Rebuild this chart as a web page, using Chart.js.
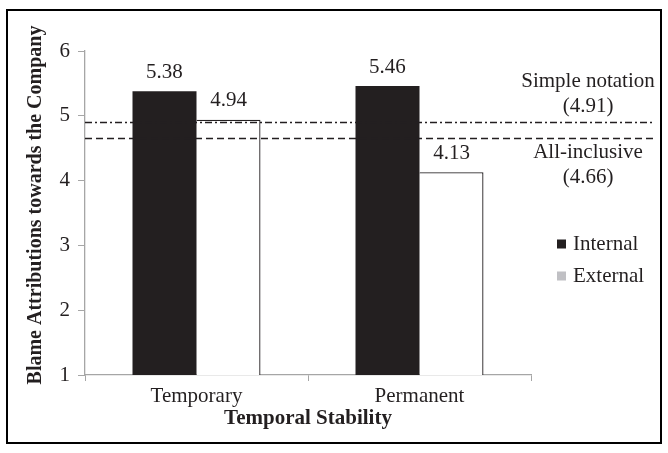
<!DOCTYPE html>
<html>
<head>
<meta charset="utf-8">
<script src="https://cdn.jsdelivr.net/npm/chart.js@4/dist/chart.umd.min.js"></script>
<style>
  html, body { margin: 0; padding: 0; background: #fff; }
  #wrap { width: 668px; height: 453px; }
</style>
</head>
<body>
<div id="wrap"><canvas id="c" width="668" height="453"></canvas></div>
<script>
// Blame attributions by temporal stability and locus
const categories = ['Temporary', 'Permanent'];
const seriesNames = ['Internal', 'External'];
const internalValues = [5.38, 5.46];
const externalValues = [4.94, 4.13];
const yTicks = [1, 2, 3, 4, 5, 6];
const refLabels = [['Simple notation', '(4.91)'], ['All-inclusive', '(4.66)']];
const refValues = [4.91, 4.66];
const yTitle = 'Blame Attributions towards the Company';
const xTitle = 'Temporal Stability';

const FONT = '"Liberation Serif", "Times New Roman", serif';
const INK = '#231f20';
const AXIS = '#a6a6a6';

const overlay = {
  id: 'overlay',
  afterDatasetsDraw(chart) {
    const ctx = chart.ctx;
    const y = chart.scales.y;
    const area = chart.chartArea;
    ctx.save();

    // value labels above each bar
    ctx.font = '21px ' + FONT;
    ctx.fillStyle = INK;
    ctx.textAlign = 'center';
    ctx.textBaseline = 'middle';
    chart.data.datasets.forEach((ds, di) => {
      chart.getDatasetMeta(di).data.forEach((bar, i) => {
        ctx.fillText(ds.data[i].toFixed(2), bar.x, bar.y - 19);
      });
    });

    // reference lines: dash-dot and dashed
    const lineRight = 653;
    const dashes = [[7, 3, 2, 3], [7, 4]];
    refValues.forEach((v, k) => {
      const py = Math.round(y.getPixelForValue(v)) + 0.5;
      ctx.beginPath();
      ctx.setLineDash(dashes[k]);
      ctx.lineWidth = 1.3;
      ctx.strokeStyle = INK;
      ctx.moveTo(area.left, py);
      ctx.lineTo(lineRight, py);
      ctx.stroke();
    });
    ctx.setLineDash([]);

    // reference line captions
    ctx.font = '21px ' + FONT;
    ctx.fillStyle = INK;
    const capX = 588;
    const ySimple = y.getPixelForValue(refValues[0]);
    const yAll = y.getPixelForValue(refValues[1]);
    ctx.fillText(refLabels[0][0], capX, ySimple - 40);
    ctx.fillText(refLabels[0][1], capX, ySimple - 15);
    ctx.fillText(refLabels[1][0], capX, yAll + 15);
    ctx.fillText(refLabels[1][1], capX, yAll + 40);

    // legend
    const legendY = [244, 276];
    chart.data.datasets.forEach((ds, di) => {
      ctx.fillStyle = ds.legendColor;
      ctx.fillRect(557, legendY[di] - 4.5, 9, 9);
      ctx.fillStyle = INK;
      ctx.textAlign = 'left';
      ctx.fillText(ds.label, 573, legendY[di]);
    });

    // axis titles
    ctx.font = 'bold 21px ' + FONT;
    ctx.textAlign = 'center';
    ctx.fillText(xTitle, (area.left + area.right) / 2, 419);
    ctx.save();
    ctx.translate(36, 205);
    ctx.rotate(-Math.PI / 2);
    ctx.font = 'bold 20px ' + FONT;
    ctx.fillText(yTitle, 0, 0);
    ctx.restore();

    // outer frame
    ctx.lineWidth = 2;
    ctx.strokeStyle = '#000';
    ctx.strokeRect(7, 10, 654, 433);
    ctx.restore();
  }
};

function draw() {
  new Chart(document.getElementById('c'), {
    type: 'bar',
    data: {
      labels: categories,
      datasets: [
        {
          label: seriesNames[0],
          data: internalValues,
          backgroundColor: INK,
          borderWidth: 0,
          legendColor: INK
        },
        {
          label: seriesNames[1],
          data: externalValues,
          backgroundColor: '#ffffff',
          borderColor: INK,
          borderWidth: { top: 1.3, right: 1.3, left: 0, bottom: 0 },
          legendColor: '#c0c0c4'
        }
      ]
    },
    options: {
      responsive: false,
      animation: false,
      events: [],
      layout: { padding: { top: 51, right: 137, left: 0, bottom: 0 } },
      plugins: { legend: { display: false }, tooltip: { enabled: false } },
      datasets: { bar: { categoryPercentage: 0.574, barPercentage: 1 } },
      scales: {
        x: {
          grid: { drawOnChartArea: false, offset: true, color: AXIS, tickLength: 6 },
          border: { color: AXIS, width: 1.3 },
          ticks: { color: INK, font: { family: FONT, size: 21 }, padding: 3 },
          afterFit(s) { s.height = 78; }
        },
        y: {
          min: yTicks[0],
          max: yTicks[yTicks.length - 1],
          grid: { drawOnChartArea: false, color: AXIS, tickLength: 7 },
          border: { color: AXIS, width: 1.3 },
          ticks: {
            stepSize: 1,
            color: INK,
            font: { family: FONT, size: 21 },
            padding: 8
          },
          afterFit(s) { s.width = 85; }
        }
      }
    },
    plugins: [overlay]
  });
}

Promise.all([
  document.fonts.load('21px "Liberation Serif"'),
  document.fonts.load('bold 21px "Liberation Serif"')
]).then(draw, draw);
</script>
</body>
</html>
